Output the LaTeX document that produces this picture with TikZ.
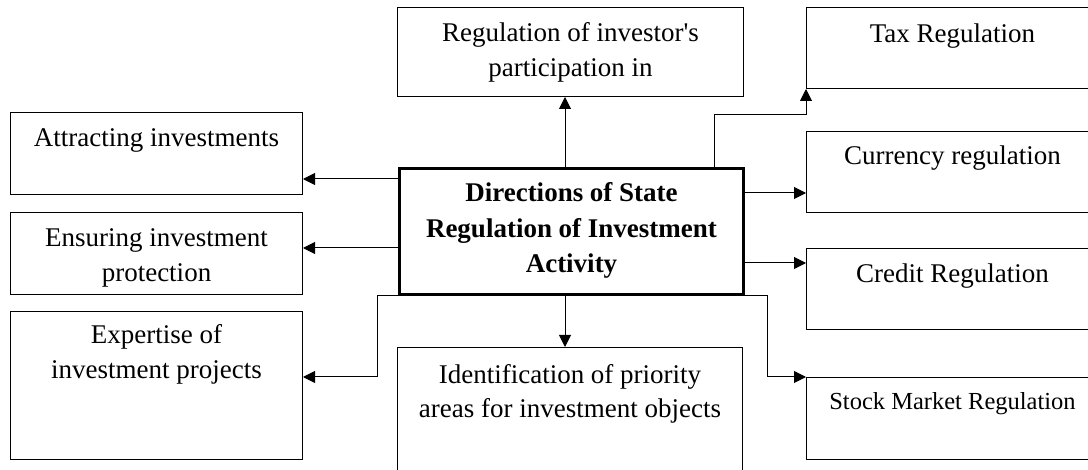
\documentclass[tikz,border=0pt]{standalone}
\usepackage{fontspec}
\setmainfont{Liberation Serif}
\usetikzlibrary{arrows.meta}

\begin{document}
\begin{tikzpicture}[x=1pt,y=-1pt,
        box/.style={draw, line width=1pt, rectangle, anchor=north west, inner sep=0pt, minimum width=292pt, minimum height=82pt},
        lbl/.style={anchor=base, align=center, inner sep=0pt, font=\fontsize{27}{35}\selectfont},
        conn/.style={line width=1pt, -{Triangle[length=12pt,width=12pt]}}]
        \useasboundingbox (0,0) rectangle (1088,470);
        \clip (0,0) rectangle (1088,470);
        \node[box] (attract) at (10,112) {};
        \node[box] (protect) at (10,212) {};
        \node[box, minimum height=148pt] (expert) at (10,311) {};
        \node[box, minimum width=346pt, minimum height=89pt] (invpart) at (397,7) {};
        \node[box, line width=3pt, minimum width=344pt, minimum height=126pt] (central) at (398,167) {};
        \node[box, minimum width=345pt, minimum height=150pt] (ident) at (397,347) {};
        \node[box, minimum height=81pt] (tax) at (806,7) {};
        \node[box, minimum height=81pt] (currency) at (806,131) {};
        \node[box, minimum height=81pt] (credit) at (806,248) {};
        \node[box] (stock) at (806,377) {};
        \node[lbl] (attract-t) at ([yshift=-35pt]attract.north) {Attracting investments};
        \node[lbl] (protect-t) at ([yshift=-70pt]protect.north) {Ensuring investment\\protection};
        \node[lbl] (expert-t) at ([yshift=-68pt]expert.north) {Expertise of\\investment projects};
        \node[lbl] (invpart-t) at ([yshift=-70pt]invpart.north) {Regulation of investor\textquotesingle s\\participation in};
        \node[lbl, font=\fontsize{27}{35.5}\selectfont\bfseries] (central-t) at ([yshift=-106pt]central.north) {Directions of State\\Regulation of Investment\\Activity};
        \node[lbl] (ident-t) at ([yshift=-71pt]ident.north) {Identification of priority\\areas for investment objects};
        \node[lbl] (tax-t) at ([yshift=-36pt]tax.north) {Tax Regulation};
        \node[lbl] (currency-t) at ([yshift=-34pt]currency.north) {Currency regulation};
        \node[lbl] (credit-t) at ([yshift=-35pt]credit.north) {Credit Regulation};
        \node[lbl, font=\fontsize{24.5}{30}\selectfont] (stock-t) at ([yshift=-33pt]stock.north) {Stock Market Regulation};
        \coordinate (row-att) at (0,179);
        \coordinate (row-prot) at (0,248);
        \coordinate (row-exp) at (0,377);
        \coordinate (row-cur) at (0,193);
        \coordinate (row-cred) at (0,263);
        \coordinate (col-mid) at (565,0);
        \coordinate (col-tax) at (714,0);
        \coordinate (tax-bend) at (806,115);
        \draw[conn] (central.west |- row-att) -- (attract.east |- row-att);
        \draw[conn] (central.west |- row-prot) -- (protect.east |- row-prot);
        \draw[conn] (central.south west) -- ++(-21,0) |- (expert.east |- row-exp);
        \draw[conn] (central.north -| col-mid) -- (invpart.south -| col-mid);
        \draw[conn] (central.south -| col-mid) -- (ident.north -| col-mid);
        \draw[conn] (central.north -| col-tax) |- (tax-bend) -- (tax.south west);
        \draw[conn] (central.east |- row-cur) -- (currency.west |- row-cur);
        \draw[conn] (central.east |- row-cred) -- (credit.west |- row-cred);
        \draw[conn] (central.south east) -- ++(22,0) |- (stock.north west);
\end{tikzpicture}
\end{document}
